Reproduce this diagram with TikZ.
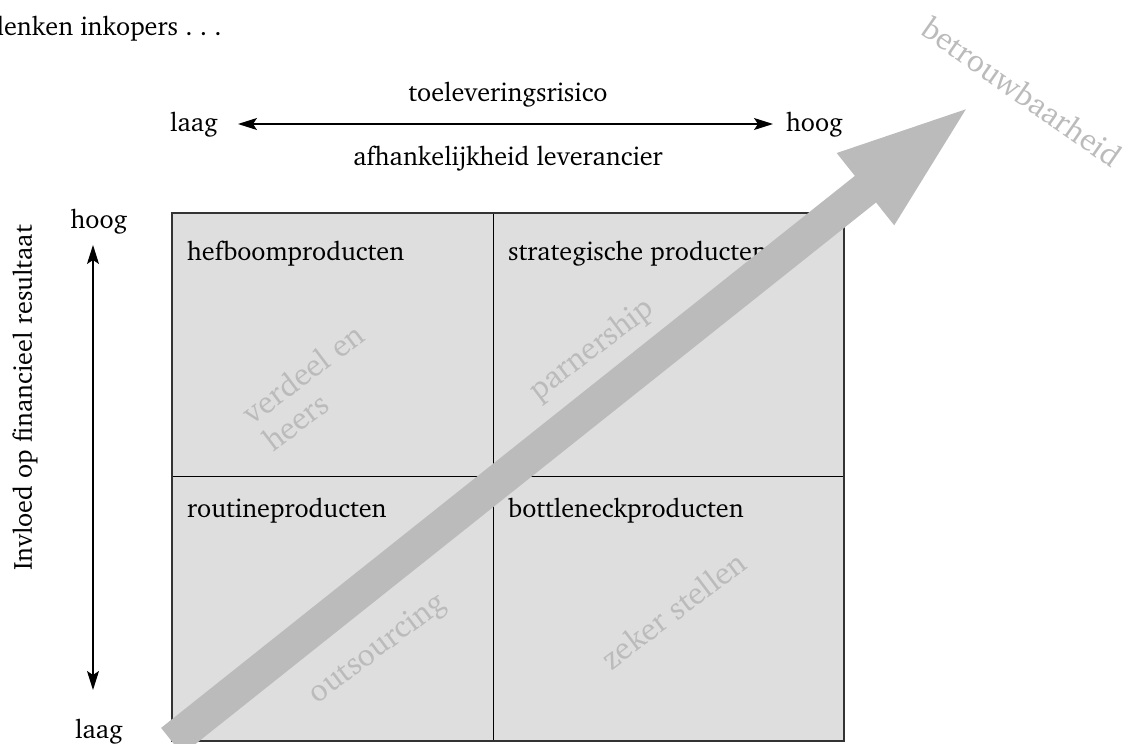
\documentclass[tikz,border=0pt]{standalone}
\usepackage[T1]{fontenc}
\usepackage{charter}
\usetikzlibrary{arrows.meta}
\definecolor{cellfill}{HTML}{DEDEDE}
\definecolor{wmgray}{HTML}{BBBBBB}
\begin{document}
\begin{tikzpicture}[x=1pt,y=-1pt,
  every node/.style={font=\fontsize{26.2}{31}\selectfont, inner sep=0pt},
  cellbox/.style={draw=black, line width=1.2pt, fill=cellfill, anchor=north west},
  celllabel/.style={anchor=base west},
  watermark/.style={text=wmgray, font=\fontsize{31.5}{34}\selectfont, rotate=37},
  thinarrow/.style={line width=1.2pt, {Stealth[length=19pt,width=12pt,inset=4pt]}-{Stealth[length=19pt,width=12pt,inset=4pt]}},
  bigarrow/.style={draw=wmgray, line width=34pt, -{Triangle[length=140pt,width=80pt]}}
]
\useasboundingbox (0,0) rectangle (1128,744);

% title (cut at left edge)
\node[anchor=base east] (title) at (222,35) {denken inkopers~.~.~.};

% cells
\node[cellbox, minimum width=321pt, minimum height=263.3pt] (A) at (171.7,212.7) {};
\node[cellbox, minimum width=350.3pt, minimum height=263.3pt] (B) at (492.7,212.7) {};
\node[cellbox, minimum width=321pt, minimum height=264pt] (C) at (171.7,476) {};
\node[cellbox, minimum width=350.3pt, minimum height=264pt] (D) at (492.7,476) {};
\draw[black!80, line width=1.8pt] (A.north west) rectangle (D.south east);

% cell labels
\node[celllabel] (la) at (187,260) {hefboomproducten};
\node[celllabel] (lb) at (508,260) {strategische producten};
\node[celllabel] (lc) at (187,517) {routineproducten};
\node[celllabel] (ld) at (508,517) {bottleneckproducten};

% watermarks
\node[watermark, align=left] (wa) at (313,387) {verdeel en\\heers};
\node[watermark] (wb) at (592,350) {parnership};
\node[watermark] (wc) at (378,649) {outsourcing};
\node[watermark] (wd) at (673,610) {zeker stellen};
\node[watermark, rotate=-72] (we) at (1022,92) {betrouwbaarheid};

% horizontal axis
\node (tl) at (508,95) {toeleveringsrisico};
\node (tr) at (508,159) {afhankelijkheid leverancier};
\node[anchor=base west] (hlo) at (170,131) {laag};
\node[anchor=base west] (hhi) at (786,131) {hoog};
\coordinate (hl) at (238,124);
\coordinate (hr) at (773,124);
\draw[thinarrow] (hl) -- (hr);

% vertical axis
\node[anchor=base] (vhi) at (99,228) {hoog};
\node[anchor=base] (vlo) at (99,738) {laag};
\coordinate (vt) at (93,245);
\coordinate (vb) at (93,690);
\draw[thinarrow] (vt) -- (vb);
\node[rotate=90] (vlab) at (25,398) {Invloed op financieel resultaat};

% big arrow
\coordinate (tip) at (975,102);
\draw[bigarrow] (C.south west) -- (tip);
\end{tikzpicture}
\end{document}
